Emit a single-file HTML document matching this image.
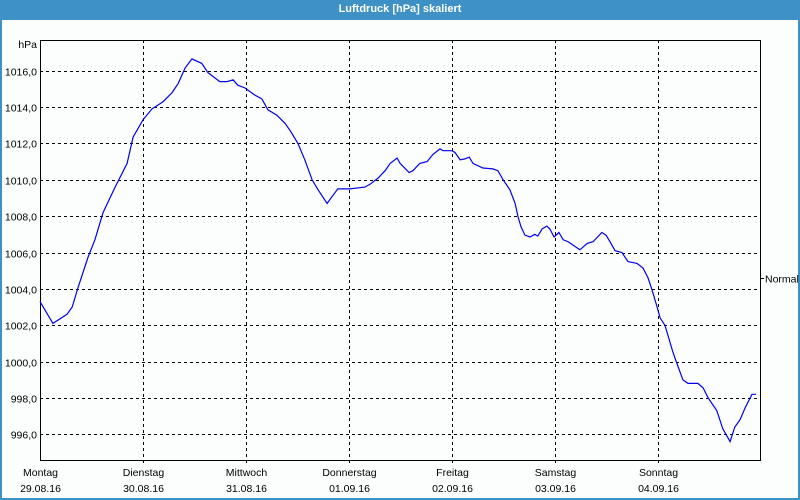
<!DOCTYPE html>
<html><head><meta charset="utf-8">
<style>
html,body{margin:0;padding:0;width:800px;height:500px;overflow:hidden;background:#fff}
#frame{position:absolute;left:0;top:0;width:796px;height:498px;border:2px solid #3d91c4;border-top:none;background:#fcfefd}
#title{position:absolute;left:0;top:0;width:800px;height:20px;background:#3d91c4;color:#fff;font:bold 11px "Liberation Sans",sans-serif;text-align:center;line-height:19px}
svg{position:absolute;left:0;top:0}
text{font-family:"Liberation Sans",sans-serif;font-size:10.5px;fill:#000}
</style></head><body>
<div id="frame"></div>
<div id="title">Luftdruck [hPa] skaliert</div>
<svg id="chart" width="800" height="500"></svg>
<script>
const dayNames=["Montag","Dienstag","Mittwoch","Donnerstag","Freitag","Samstag","Sonntag"];
const dayDates=["29.08.16","30.08.16","31.08.16","01.09.16","02.09.16","03.09.16","04.09.16"];
const yTicks=[996,998,1000,1002,1004,1006,1008,1010,1012,1014,1016];
const yTickLabels=["996,0","998,0","1000,0","1002,0","1004,0","1006,0","1008,0","1010,0","1012,0","1014,0","1016,0"];
const normalValue=1004.58;
const hours=[0,3,6.3,7.5,8.9,11.2,12.8,14.7,17.5,20.3,21.7,24,26.1,28.7,30.8,32.2,33.8,35.4,37.7,39.1,41.9,43.6,45,46.1,47.8,50.1,51.7,53.1,55.2,57.1,58.3,60.1,61.7,63.4,64.8,66.9,68.3,69.4,72.2,75.7,76.9,78.8,80.4,81.6,83.2,83.9,86,86.9,88.5,90.2,91.6,93.2,93.9,96,96.7,97.9,99,100,100.9,103.2,105.5,106.7,107.9,109.5,110.7,111.4,112.1,113,114.2,115.3,116,117,118.1,118.8,119.8,120.9,121.9,123,125.8,127.5,128.9,130.9,131.9,132.8,134,135.6,137,139.1,140.5,141.7,142.6,143.8,144.5,145.6,146.3,147.5,148.7,149.8,151,153.3,154.5,155.7,157.7,159.1,160.8,161.9,163.1,164.3,165.9,166.8];
const pressure=[1003.3,1002.1,1002.6,1003.0,1004.1,1005.75,1006.7,1008.2,1009.6,1010.9,1012.35,1013.3,1013.9,1014.3,1014.8,1015.3,1016.15,1016.65,1016.4,1015.9,1015.4,1015.4,1015.5,1015.2,1015.05,1014.65,1014.45,1013.85,1013.55,1013.1,1012.7,1012.0,1011.1,1010.0,1009.45,1008.7,1009.15,1009.5,1009.5,1009.6,1009.75,1010.1,1010.5,1010.9,1011.2,1010.9,1010.4,1010.5,1010.9,1011.0,1011.4,1011.7,1011.6,1011.6,1011.5,1011.1,1011.15,1011.25,1010.9,1010.65,1010.6,1010.5,1010.0,1009.45,1008.7,1007.95,1007.4,1006.95,1006.85,1007.0,1006.9,1007.3,1007.45,1007.3,1006.85,1007.1,1006.7,1006.6,1006.15,1006.5,1006.6,1007.1,1006.95,1006.6,1006.1,1006.0,1005.5,1005.4,1005.15,1004.6,1003.95,1003.0,1002.4,1002.0,1001.45,1000.5,999.7,999.0,998.8,998.8,998.55,998.0,997.3,996.3,995.6,996.4,996.8,997.45,998.2,998.2];

const L=40,R=760,T=40,B=460;
const xScale=h=>L+h*103/24;
const yScale=v=>70.7+(1016-v)*18.18;
const svg=document.getElementById('chart');
const NS="http://www.w3.org/2000/svg";
function mk(tag,attrs){const e=document.createElementNS(NS,tag);for(const k in attrs)e.setAttribute(k,attrs[k]);svg.appendChild(e);return e;}

yTicks.forEach((v,i)=>{
  const y=Math.round(yScale(v))+0.5;
  const g=mk('line',{x1:L,x2:R,y1:y,y2:y,stroke:'#000','stroke-dasharray':'3,3','stroke-width':1});
  
  
  const t=mk('text',{x:37,y:y+4,'text-anchor':'end'});
  t.textContent=yTickLabels[i];
  
  
});
dayNames.forEach((d,i)=>{
  const x=Math.round(xScale(i*24))+0.5;
  if(i>0){
    const g=mk('line',{x1:x,x2:x,y1:T,y2:B+4,stroke:'#000','stroke-dasharray':'3,3','stroke-width':1});
    
    
  }
  const t=mk('text',{x:x,y:476,'text-anchor':'middle'});
  t.textContent=d;
  
  
  const t2=mk('text',{x:x,y:492,'text-anchor':'middle'});
  t2.textContent=dayDates[i];
  
  
});
const ax=mk('rect',{x:L+0.5,y:T+0.5,width:R-L,height:B-T,fill:'none',stroke:'#000','stroke-width':1});


const unit=mk('text',{x:37,y:48,'text-anchor':'end'});
unit.textContent='hPa';


const ny=Math.round(yScale(normalValue))+0.5;
const nt=mk('line',{x1:R,x2:R+4,y1:ny,y2:ny,stroke:'#000'});


const nl=mk('text',{x:R+5,y:ny+4});
nl.textContent='Normal';


const pts=hours.map((h,i)=>xScale(h).toFixed(1)+','+yScale(pressure[i]).toFixed(1)).join(' ');
const line=mk('polyline',{points:pts,fill:'none',stroke:'#0000ee','stroke-width':1.2});


</script>
</body></html>
